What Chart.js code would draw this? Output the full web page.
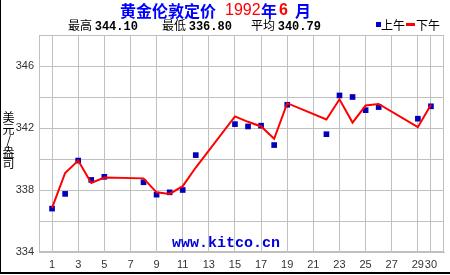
<!DOCTYPE html>
<html>
<head>
<meta charset="utf-8">
<script src="https://cdn.jsdelivr.net/npm/chart.js@4.4.0/dist/chart.umd.min.js"></script>
<style>
  body{margin:0;background:#fff;}
  #wrap{position:relative;width:450px;height:275px;background:#fff;overflow:hidden;}
  #c{position:absolute;left:0;top:0;}
  .t{position:absolute;white-space:nowrap;font-family:"Noto Sans CJK SC","DejaVu Sans",sans-serif;}
  .num{font-family:"Liberation Mono","DejaVu Sans Mono",monospace;font-weight:bold;}
  .ttl{top:0;font-size:16px;font-weight:bold;line-height:20px;color:#0000ff;}
  .ttn{font-family:"Liberation Sans",Arial,sans-serif;font-weight:normal;color:#ff0000;}
</style>
</head>
<body>
<div id="wrap">
  <canvas id="c" width="450" height="275"></canvas>
  <div class="t ttl" style="left:120px;">黄金伦敦定价</div>
  <div class="t ttl ttn" style="left:225px;">1992</div>
  <div class="t ttl" style="left:261px;">年</div>
  <div class="t ttl ttn" style="left:279px;font-weight:bold;">6</div>
  <div class="t ttl" style="left:295px;">月</div>
  <div class="t" style="left:68px;top:17px;font-size:12px;line-height:16px;color:#000;">最高 <span class="num">344.10</span></div>
  <div class="t" style="left:162px;top:17px;font-size:12px;line-height:16px;color:#000;">最低 <span class="num">336.80</span></div>
  <div class="t" style="left:251px;top:17px;font-size:12px;line-height:16px;color:#000;">平均 <span class="num">340.79</span></div>
  <div style="position:absolute;left:376px;top:22px;width:5px;height:5px;background:#0000cc;"></div>
  <div class="t" style="left:381px;top:17px;font-size:12px;line-height:16px;color:#000;">上午</div>
  <div style="position:absolute;left:406px;top:23px;width:9px;height:3px;background:#ff0000;"></div>
  <div class="t" style="left:416px;top:17px;font-size:12px;line-height:16px;color:#000;">下午</div>
  <div class="t" style="left:2px;top:111px;width:13px;font-size:12px;line-height:11.6px;color:#000;text-align:center;white-space:normal;">美<br>元<br>/<br>盎<br>司</div>
  <div class="t num" style="left:172px;top:236px;font-size:15px;line-height:16px;color:#0000dd;">www.kitco.cn</div>
  <div style="position:absolute;left:0;top:0;width:1px;height:273px;background:#000;"></div>
  <div style="position:absolute;left:0;top:272px;width:450px;height:2px;background:#000;"></div>
</div>
<script>
// 1992年6月 伦敦金定价 (美元/盎司)
var days = [1,2,3,4,5,8,9,10,11,12,15,16,17,18,19,22,23,24,25,26,29,30];
var amPrices = [336.80,337.75,339.90,338.65,338.85,338.50,337.70,337.85,338.00,340.25,342.25,342.10,342.15,340.90,343.50,341.60,344.10,344.00,343.15,343.35,342.60,343.40];
var pmPrices = [336.85,339.10,339.90,338.45,338.80,338.75,337.85,337.75,338.25,339.45,342.75,342.40,342.10,341.30,343.60,342.55,343.85,342.35,343.45,343.55,342.05,343.50];
var xTicks = [1,3,5,7,9,11,13,15,17,19,21,23,25,27,29,30];
var yLabels = [334,338,342,346];

var amData = days.map(function(d,i){ return {x:d, y:amPrices[i]}; });
var pmData = days.map(function(d,i){ return {x:d, y:pmPrices[i]}; });

var frame = {
  id:'frame',
  beforeDatasetsDraw:function(chart){
    var a = chart.chartArea, ctx = chart.ctx;
    ctx.save();
    ctx.strokeStyle = '#c0c0c0';
    ctx.lineWidth = 1;
    ctx.strokeRect(a.left+0.5, a.top+0.5, a.right-a.left-1, a.bottom-a.top-1);
    ctx.restore();
  }
};

var tickFont = {family:'Liberation Sans', size:11};

new Chart(document.getElementById('c'), {
  type:'scatter',
  data:{
    datasets:[{
      label:'下午',
      data:pmData,
      showLine:true,
      borderColor:'#ff0000',
      borderWidth:2,
      pointRadius:0,
      tension:0,
      order:0
    },{
      label:'上午',
      data:amData,
      pointStyle:'rect',
      pointRadius:4,
      backgroundColor:'#0000bb',
      borderColor:'#0000bb',
      borderWidth:0,
      order:1
    }]
  },
  options:{
    responsive:false,
    animation:false,
    layout:{padding:{left:0, top:35, right:6, bottom:3}},
    plugins:{legend:{display:false}, tooltip:{enabled:false}},
    scales:{
      x:{
        type:'linear', min:0, max:31,
        afterBuildTicks:function(s){ s.ticks = xTicks.map(function(v){ return {value:v}; }); },
        afterFit:function(s){ s.height = 20; },
        ticks:{autoSkip:false, maxRotation:0, padding:6, color:'#333', font:tickFont,
          callback:function(v){ return String(v); }},
        grid:{color:'#c0c0c0', drawTicks:false},
        border:{color:'#c0c0c0'}
      },
      y:{
        min:334, max:348,
        afterFit:function(s){ s.width = 39; },
        ticks:{stepSize:2, padding:5, color:'#333', font:tickFont,
          callback:function(v){ return yLabels.indexOf(v) >= 0 ? String(v) : ''; }},
        grid:{color:'#c0c0c0', drawTicks:false},
        border:{color:'#c0c0c0'}
      }
    }
  },
  plugins:[frame]
});
</script>
</body>
</html>
